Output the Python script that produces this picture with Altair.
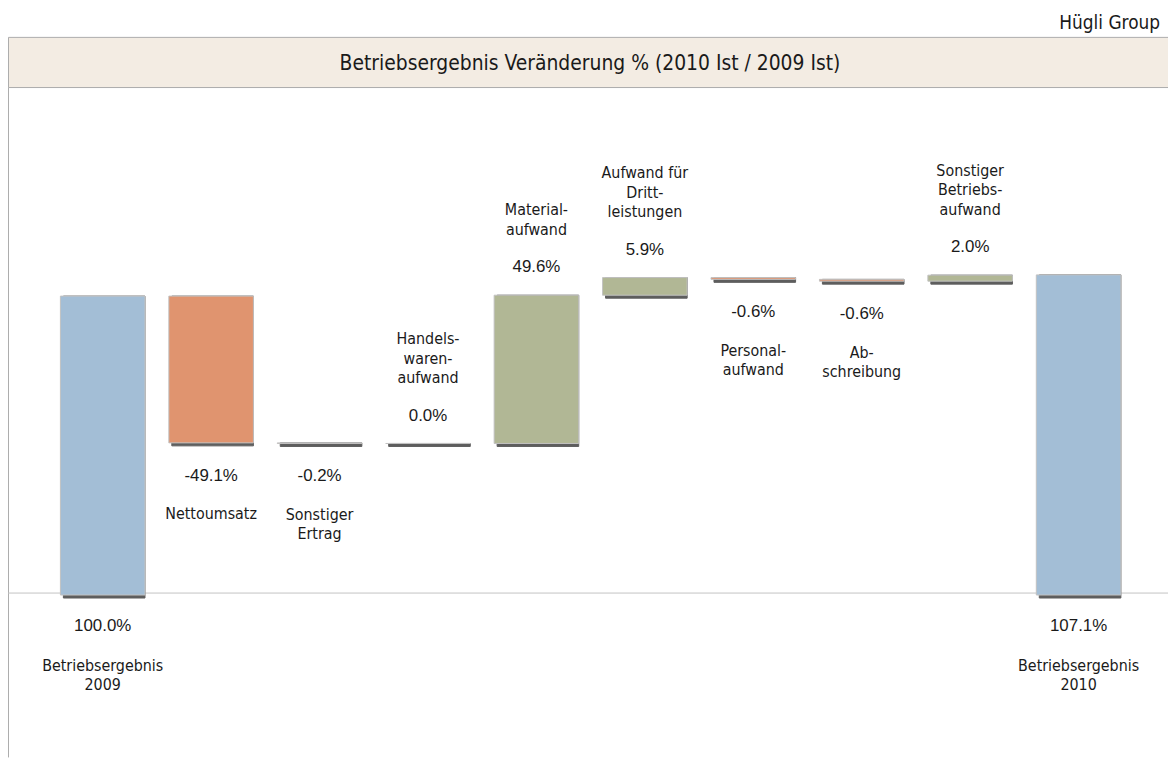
import altair as alt
import pandas as pd

# ---- data ----
names = [
    ["Betriebsergebnis", "2009"],
    ["Nettoumsatz"],
    ["Sonstiger", "Ertrag"],
    ["Handels-", "waren-", "aufwand"],
    ["Material-", "aufwand"],
    ["Aufwand für", "Dritt-", "leistungen"],
    ["Personal-", "aufwand"],
    ["Ab-", "schreibung"],
    ["Sonstiger", "Betriebs-", "aufwand"],
    ["Betriebsergebnis", "2010"],
]
values = [100.0, -49.1, -0.2, 0.0, 49.6, 5.9, -0.6, -0.6, 2.0, 107.1]
kinds = ["total", "delta", "delta", "delta", "delta", "delta", "delta", "delta", "delta", "total"]

title_text = "Betriebsergebnis Veränderung % (2010 Ist / 2009 Ist)"
corner_text = "Hügli Group"

# ---- layout constants ----
W, H = 1168, 752
PX_PER_UNIT = 3.01
ZERO_PX = 588.5
LINE_H = 19.5  # px between name lines

# ---- waterfall table built from the arrays ----
rows = []
run = 0.0
for i, (v, k) in enumerate(zip(values, kinds)):
    if k == "total":
        start, end = 0.0, v
        run = v
        grp = "total"
    else:
        start, end = run, run + v
        run = end
        grp = "pos" if v >= 0 else "neg"
    rows.append({
        "idx": i,
        "label": f"{v:.1f}%",
        "lo": min(start, end),
        "hi": max(start, end),
        "grp": grp,
    })
df = pd.DataFrame(rows)
half = 0.39
df["x0"] = df["idx"] - half
df["x1"] = df["idx"] + half
df["x"] = df["idx"].astype(float)
df["ybot"] = df.apply(lambda r: 0.0 if r["grp"] == "total" else r["lo"], axis=1)

# one row per line of each category name
lh_units = LINE_H / PX_PER_UNIT
line_rows = []
for r, lines in zip(rows, names):
    n = len(lines)
    for k, t in enumerate(lines):
        if r["grp"] == "pos":
            y = r["hi"] + (n - 1 - k) * lh_units
        elif r["grp"] == "neg":
            y = r["lo"] - k * lh_units
        else:
            y = 0.0 - k * lh_units
        line_rows.append({"x": float(r["idx"]), "line": t, "y": y, "grp": r["grp"]})
ldf = pd.DataFrame(line_rows)

xs = alt.Scale(domain=[-0.8733, 9.8245], nice=False, zero=False)
ys = alt.Scale(domain=[-(H - ZERO_PX) / PX_PER_UNIT, ZERO_PX / PX_PER_UNIT], nice=False, zero=False)
col = alt.Scale(domain=["total", "pos", "neg"], range=["#A3BED6", "#B1B795", "#E0946F"])

NAME_FONT = "DejaVu Sans Condensed, DejaVu Sans"
VAL_FONT = "Liberation Sans, Arial"
TXT = "#1a1a1a"

one = pd.DataFrame({"a": [0]})

band = alt.Chart(one).mark_rect(fill="#F3ECE3", stroke="#ABABAB", strokeWidth=1).encode(
    x=alt.value(0.5), x2=alt.value(W + 2), y=alt.value(27), y2=alt.value(77.5)
)
left_border = alt.Chart(one).mark_rule(color="#ABABAB", strokeWidth=1).encode(
    x=alt.value(0.5), y=alt.value(77.5), y2=alt.value(H)
)
baseline = alt.Chart(one).mark_rule(color="#C4C4C4", strokeWidth=1, yOffset=-2).encode(
    x=alt.value(0), x2=alt.value(W), y=alt.Y(datum=0, scale=ys, axis=None)
)
title = alt.Chart(one).mark_text(
    text=title_text, font=NAME_FONT, fontSize=21, color=TXT, align="center", baseline="alphabetic"
).encode(x=alt.value(586), y=alt.value(60))
corner = alt.Chart(one).mark_text(
    text=corner_text, font=NAME_FONT, fontSize=19, color=TXT, align="right", baseline="alphabetic"
).encode(x=alt.value(1160), y=alt.value(19))

base = alt.Chart(df)
X0 = alt.X("x0:Q", scale=xs, axis=None)
X1 = alt.X2("x1:Q")

shadow = base.mark_rect(color="#5E5E5E", stroke="#5E5E5E", strokeWidth=1, xOffset=3, yOffset=3).encode(
    x=X0, x2=X1, y=alt.Y("lo:Q", scale=ys, axis=None), y2="hi:Q"
)
bars = base.mark_rect(stroke="#C2C2C2", strokeWidth=1).encode(
    x=X0, x2=X1, y=alt.Y("lo:Q", scale=ys, axis=None), y2="hi:Q",
    color=alt.Color("grp:N", scale=col, legend=None),
)

XC = alt.X("x:Q", scale=xs, axis=None)


def val_layer(grp, yfield, dy):
    return base.transform_filter(alt.datum.grp == grp).mark_text(
        font=VAL_FONT, fontSize=17, color=TXT, align="center", baseline="middle", dy=dy
    ).encode(x=XC, y=alt.Y(f"{yfield}:Q", scale=ys, axis=None), text="label:N")


def name_layer(grp, dy):
    return alt.Chart(ldf).transform_filter(alt.datum.grp == grp).mark_text(
        font=NAME_FONT, fontSize=16, color=TXT, align="center", baseline="middle", dy=dy
    ).encode(x=XC, y=alt.Y("y:Q", scale=ys, axis=None), text="line:N")


texts = [
    val_layer("total", "ybot", 31),
    name_layer("total", 71),
    val_layer("neg", "lo", 33),
    name_layer("neg", 72),
    val_layer("pos", "hi", -28),
    name_layer("pos", -66),
]

chart = alt.layer(band, left_border, baseline, title, corner, shadow, bars, *texts).properties(
    width=W, height=H, padding=0, autosize=alt.AutoSizeParams(type="none")
).configure_view(stroke=None)

chart.save("out.html", embed_options={"renderer": "svg", "actions": False})
